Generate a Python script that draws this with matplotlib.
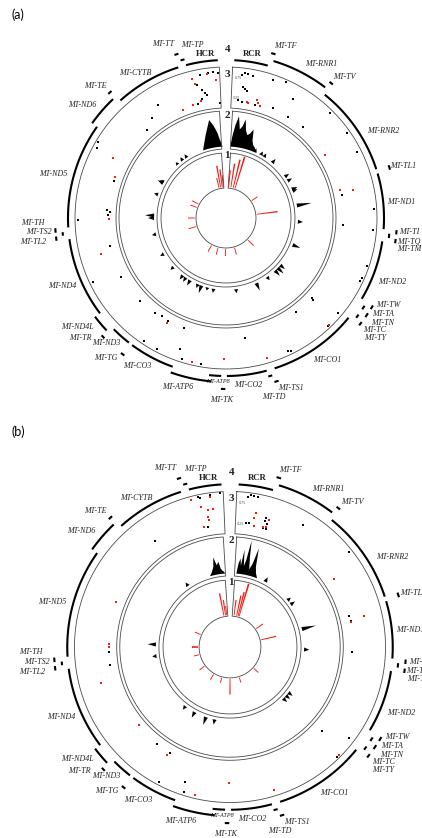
import numpy as np
import matplotlib
matplotlib.use('Agg')
import matplotlib.pyplot as plt

GENOME = 16569
GAP = 3.0  # degrees kept empty on each side of the top

# ---- gene track (rCRS coordinates); ring 0 = genes, 1 = outer genes, 2 = tRNA ticks
gene_names = ['HCR', 'RCR', 'MT-TF', 'MT-RNR1', 'MT-TV', 'MT-RNR2', 'MT-TL1', 'MT-ND1',
              'MT-TI', 'MT-TQ', 'MT-TM', 'MT-ND2', 'MT-TW', 'MT-TA', 'MT-TN', 'MT-TC',
              'MT-TY', 'MT-CO1', 'MT-TS1', 'MT-TD', 'MT-CO2', 'MT-TK', 'MT-ATP8', 'MT-ATP6',
              'MT-CO3', 'MT-TG', 'MT-ND3', 'MT-TR', 'MT-ND4L', 'MT-ND4', 'MT-TH', 'MT-TS2',
              'MT-TL2', 'MT-ND5', 'MT-ND6', 'MT-TE', 'MT-CYTB', 'MT-TT', 'MT-TP']
gene_start = [16024, 1, 577, 648, 1602, 1671, 3230, 3307, 4263, 4329, 4402, 4470, 5512, 5587,
              5657, 5761, 5826, 5904, 7446, 7518, 7586, 8295, 8366, 8527, 9207, 9991, 10059,
              10405, 10470, 10760, 12138, 12207, 12266, 12337, 14149, 14674, 14747, 15888, 15956]
gene_end = [16569, 576, 647, 1601, 1670, 3229, 3304, 4262, 4331, 4400, 4469, 5511, 5579, 5655,
            5729, 5826, 5891, 7445, 7514, 7585, 8269, 8364, 8572, 9207, 9990, 10058, 10404,
            10469, 10766, 12137, 12206, 12265, 12336, 14148, 14673, 14742, 15887, 15953, 16023]
gene_ring = [0, 0, 2, 1, 2, 0, 2, 0, 2, 1, 2, 0, 2, 1, 2, 1, 2, 0, 2, 1, 0, 2, 0, 1,
             0, 2, 0, 2, 1, 0, 2, 1, 2, 0, 1, 2, 0, 2, 1]

# label anchors (angle in degrees clockwise from top, radius)
label_at = {
    'MT-TT': (340.1, 185), 'MT-TP': (348.9, 176), 'MT-TF': (18.9, 182),
    'MT-RNR1': (31.9, 181), 'MT-TV': (40.2, 184), 'MT-RNR2': (61.0, 180),
    'MT-TL1': (73.6, 185), 'MT-ND1': (84.7, 176), 'MT-TI': (94.4, 184),
    'MT-TQ': (97.2, 184), 'MT-TM': (99.6, 186), 'MT-ND2': (111.1, 178),
    'MT-TW': (118.2, 184), 'MT-TA': (121.4, 184), 'MT-TN': (123.8, 189),
    'MT-TC': (126.9, 186), 'MT-TY': (128.8, 191), 'MT-CO1': (144.6, 174),
    'MT-TS1': (159.1, 182), 'MT-TD': (165.0, 185), 'MT-CO2': (172.5, 168),
    'MT-ATP8': (182.8, 164), 'MT-TK': (181.3, 182), 'MT-ATP6': (195.9, 176),
    'MT-CO3': (211.0, 173), 'MT-TG': (220.6, 184), 'MT-ND3': (223.8, 173),
    'MT-TR': (230.6, 189), 'MT-ND4L': (233.6, 184), 'MT-ND4': (247.4, 177),
    'MT-TH': (268.5, 193), 'MT-TS2': (265.7, 188), 'MT-TL2': (262.9, 194),
    'MT-ND5': (284.3, 178), 'MT-ND6': (308.1, 183), 'MT-TE': (315.2, 186),
    'MT-CYTB': (327.9, 171),
}

# ---- panel (a)
a_spike_pos = [16099, 16240, 16380, 16474, 94, 281, 491, 655, 2480, 3744, 6178, 7535,
               8330, 8986, 9594, 11747, 12496, 13432, 13759]
a_spike_len = [10, 22, 18, 12, 17, 24, 29, 33, 7, 21, 8, 7, 7, 7, 7, 8, 7, 7, 7]

a_hcr_pos = [15818, 15912, 16052, 16193, 16240, 16333, 16380, 16427, 16474, 16520, 16567]
a_hcr_h = [0, 5, 14, 24, 28, 22, 18, 14, 8, 4, 0]
a_rcr_pos = [0, 47, 117, 187, 257, 328, 374, 445, 515, 585, 655, 725, 796, 889, 983]
a_rcr_h = [0, 10, 22, 31, 18, 22, 29, 18, 14, 16, 21, 10, 6, 4, 0]
a_peak_pos = [964, 1217, 1357, 1732, 2434, 2621, 2972, 3042, 3604, 4212, 5101, 5990, 6131,
              6271, 6646, 7114, 7909, 8752, 8986, 9220, 9360, 9688, 9875, 10015, 10483,
              11092, 11887, 12496, 12589, 13385, 13853, 13900, 14742, 14976, 15163]
a_peak_h = [4, 4, 4, 5, 5, 5, 6, 5, 15, 5, 8, 6, 8, 7, 4, 8, 4, 4, 3, 8, 4, 6, 5, 5, 4,
            4, 4, 6, 9, 4, 6, 4, 3, 4, 4]

a_black_pos = [16380, 16474, 16560, 16226, 16127, 16207, 16258, 16291, 16169, 16071, 16560,
               15959, 211, 267, 365, 159, 206, 257, 300, 131, 229, 534, 739, 973, 1236,
               1334, 936, 1732, 1952, 2429, 2822, 3547, 3908, 4231, 4292, 4961, 5195, 5242,
               5958, 6248, 6089, 6093, 6561, 7114, 7067, 7862, 8738, 9098, 9192, 9257,
               9589, 9861, 9655, 9842, 10001, 10436, 11129, 11293, 11868, 12458, 12673,
               12566, 15257, 15013, 14742, 13942, 13820, 13352, 12636]
a_black_val = [.87, .90, .85, .86, .64, .49, .40, .35, .29, .19, .13, .19, .88, .87, .84,
               .83, .54, .50, .46, .21, .17, .16, .87, .95, .65, .21, .23, .22, .92, .92,
               .90, .20, .93, .18, .91, .95, .94, .93, .91, .94, .18, .24, .17, .91, .93,
               .27, .94, .92, .70, .18, .93, .92, .20, .17, .22, .23, .25, .93, .23, .93,
               .23, .19, .53, .35, .21, .95, .90, .19, .15]
a_red_pos = [16062, 16099, 16525, 16146, 16352, 342, 374, 548, 590, 651, 2551, 3426, 3491,
             6224, 7525, 8316, 8901, 9660, 11737, 12472, 13806, 13450, 15697, 15949]
a_red_val = [.82, .68, .69, .24, .86, .19, .17, .29, .23, .17, .17, .18, .49, .93, .87,
             .76, .92, .26, .50, .17, .45, .20, .15, .18]

# ---- panel (b)
b_spike_pos = [16193, 16333, 16427, 201, 421, 538, 632, 2434, 3463, 13572, 12470, 12520,
               11840, 10764, 9734, 8986, 8284, 7488, 6037]
b_spike_len = [22, 15, 9, 15, 20, 24, 33, 8, 15, 6, 6, 6, 5, 6, 6, 5, 15, 5, 6]

b_hcr_pos = [15959, 16052, 16146, 16202, 16263, 16333, 16380, 16427, 16474, 16520]
b_hcr_h = [0, 3, 8, 17, 9, 12, 5, 3, 2, 0]
b_rcr_pos = [70, 117, 164, 197, 243, 295, 337, 384, 435, 491, 552, 608, 679, 749, 842]
b_rcr_h = [0, 10, 15, 8, 24, 8, 14, 34, 16, 6, 12, 28, 10, 4, 0]
b_peak_pos = [1189, 2246, 2434, 3416, 4165, 5850, 5990, 6131, 8845, 9173, 9617, 10015,
              12168, 12589, 15093]
b_peak_h = [5, 4, 5, 14, 5, 5, 5, 5, 5, 8, 6, 4, 4, 8, 4]

b_black_pos = [16137, 16179, 16361, 16539, 16216, 229, 285, 351, 173, 206, 271, 590, 594,
               641, 580, 650, 15065, 12379, 1301, 2265, 3388, 3496, 4175, 12093, 10015,
               9660, 9580, 9159, 9103, 6051, 5822, 6224]
b_black_val = [.94, .91, .95, .96, .21, .95, .94, .92, .90, .27, .30, .48, .41, .37, .23,
               .23, .39, .18, .68, .93, .24, .25, .21, .18, .20, .21, .92, .68, .91, .26,
               .85, .95]
b_red_pos = [16015, 16160, 16357, 16277, 16371, 16254, 16272, 16141, 374, 360, 393, 571,
             641, 665, 13511, 2527, 3519, 3463, 12496, 12561, 11770, 10600, 9700, 8901,
             8298, 7488, 6164]
b_red_val = [.93, .71, .89, .60, .60, .45, .37, .22, .54, .42, .24, .27, .29, .46, .22,
             .26, .25, .57, .18, .18, .49, .16, .28, .92, .53, .86, .96]

RED = '#f01e14'
SERIF = 'Liberation Serif'
tracks = [(30, 65, 4.0), (69, 107, 3.5), (110, 151, 2.5)]
ring_r = [158, 164, 171]
SPIKE_BASE = 31
PEAK_BASE = 72
DOT_R0, DOT_SPAN = 110, 41


def theta(pos):
    pos = np.asarray(pos, dtype=float)
    return np.deg2rad(GAP + pos / GENOME * (360 - 2 * GAP))


def outline(ax, r0, r1, half_gap):
    t = np.deg2rad(np.linspace(half_gap, 360 - half_gap, 500))
    tt = np.concatenate([t, t[::-1], t[:1]])
    rr = np.concatenate([np.full_like(t, r1), np.full_like(t, r0), [r1]])
    ax.plot(tt, rr, color='#4a4a4a', lw=0.6)


def draw_panel(ax, spike_pos, spike_len, hcr_pos, hcr_h, rcr_pos, rcr_h, peak_pos, peak_h,
               black_pos, black_val, red_pos, red_val):
    ax.set_theta_zero_location('N')
    ax.set_theta_direction(-1)
    ax.set_ylim(0, 200)
    ax.grid(False)
    ax.set_xticks([])
    ax.set_yticks([])
    ax.spines['polar'].set_visible(False)
    ax.patch.set_visible(False)

    for r0, r1, hg in tracks:
        outline(ax, r0, r1, hg)

    # track 1: red histogram spikes
    ax.bar(theta(spike_pos), spike_len, width=np.deg2rad(1.5), bottom=SPIKE_BASE,
           color=RED, linewidth=0)

    # track 2: black peaks
    for p, h in [(hcr_pos, hcr_h), (rcr_pos, rcr_h)]:
        ax.fill_between(theta(p), PEAK_BASE, PEAK_BASE + np.asarray(h), color='black', lw=0)
    for p, h in zip(peak_pos, peak_h):
        ax.fill(theta([p - 75, p, p + 75]), [PEAK_BASE, PEAK_BASE + h, PEAK_BASE],
                color='black', lw=0)

    # track 3: scatter
    ax.scatter(theta(black_pos), DOT_R0 + DOT_SPAN * np.asarray(black_val), s=2.2,
               marker='s', color='black', lw=0)
    ax.scatter(theta(red_pos), DOT_R0 + DOT_SPAN * np.asarray(red_val), s=2.2,
               marker='s', color=RED, lw=0)
    for v in (0.75, 0.25):
        ax.text(np.deg2rad(5.0), DOT_R0 + DOT_SPAN * v, f'{v:.2f}', fontsize=2.3,
                color='#555555', ha='center', va='center')

    # track 4: genes
    for name, s, e, ring in zip(gene_names, gene_start, gene_end, gene_ring):
        t = theta(np.linspace(s, e, 40))
        ax.plot(t, np.full_like(t, ring_r[ring]), color='black', lw=1.5,
                solid_capstyle='butt')
        if name in label_at:
            ang, r = label_at[name]
            ax.text(np.deg2rad(ang), r, name, family=SERIF, style='italic',
                    fontsize=4.4 if name == 'MT-ATP8' else 5.8, color='#222222',
                    ha='center', va='center')

    ax.text(np.deg2rad(352.7), 165, 'HCR', family=SERIF, weight='bold', fontsize=6.3,
            ha='center', va='center', color='#222222')
    ax.text(np.deg2rad(9.0), 166, 'RCR', family=SERIF, weight='bold', fontsize=6.3,
            ha='center', va='center', color='#222222')
    for num, r in zip('1234', [63, 103, 144, 169]):
        ax.text(0.012, r, num, family=SERIF, weight='bold', fontsize=8,
                ha='center', va='center', color='#222222')


W, H = 422, 838
fig = plt.figure(figsize=(W / 100, H / 100), dpi=100)
fig.patch.set_facecolor('white')

# panel a: centre (226, 218) px, 200 px per 200 units
ax_a = fig.add_axes([(226 - 200) / W, (H - 218 - 200) / H, 400 / W, 400 / H],
                    projection='polar')
draw_panel(ax_a, a_spike_pos, a_spike_len, a_hcr_pos, a_hcr_h, a_rcr_pos, a_rcr_h,
           a_peak_pos, a_peak_h, a_black_pos, a_black_val, a_red_pos, a_red_val)

# panel b: centre (230, 647) px, slightly larger; right-hand labels run off the page as in the original
ax_b = fig.add_axes([(230 - 206) / W, (H - 647 - 206) / H, 412 / W, 412 / H],
                    projection='polar')
draw_panel(ax_b, b_spike_pos, b_spike_len, b_hcr_pos, b_hcr_h, b_rcr_pos, b_rcr_h,
           b_peak_pos, b_peak_h, b_black_pos, b_black_val, b_red_pos, b_red_val)

fig.text(12 / W, 1 - 15 / H, '(a)', fontsize=9, family='Lato', va='center', ha='left')
fig.text(12 / W, 1 - 432 / H, '(b)', fontsize=9, family='Lato', va='center', ha='left')

fig.savefig('out.png', dpi=100)
